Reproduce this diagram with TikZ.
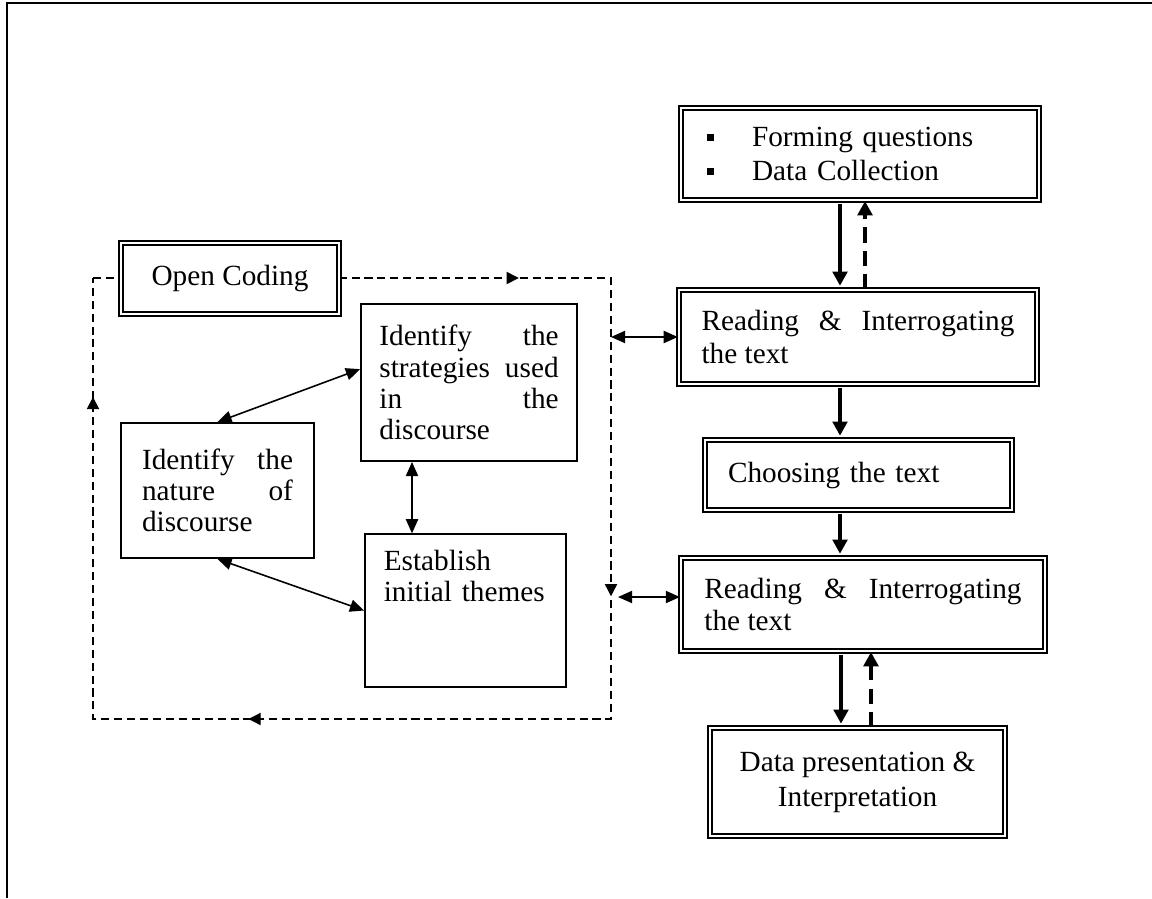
\documentclass[tikz,border=0pt]{standalone}
\usepackage{fontspec}
\setmainfont{Liberation Serif}
\usetikzlibrary{arrows.meta,decorations.markings}
\hyphenpenalty=10000
\tolerance=10000
\newcommand{\sqbul}{\makebox[18.5pt][l]{\rule[2.3pt]{2.9pt}{2.9pt}}}

\tikzset{
	dblbox/.style={draw, fill=white, line width=0.95pt, double, double distance=0.75pt, inner sep=0pt, font=\fontsize{12}{13.2}\selectfont},
	plainbox/.style={draw, fill=white, line width=0.75pt, inner sep=0pt, font=\fontsize{12}{12.8}\selectfont},
	flow/.style={line width=1.4pt, shorten <=1.3pt, shorten >=1.3pt, -{Triangle[length=5.8pt, width=6pt]}},
	backflow/.style={line width=1.4pt, dash pattern=on 6.2pt off 3.3pt, -{Triangle[length=5.8pt, width=6pt]}},
	biarrow/.style={line width=0.65pt, {Triangle[length=5.8pt, width=5pt]}-{Triangle[length=5.8pt, width=5pt]}},
	loopline/.style={line width=0.55pt, dash pattern=on 3.3pt off 2pt},
}

\begin{document}
\begin{tikzpicture}[x=0.41pt, y=-0.41pt]
	\useasboundingbox (0,0) rectangle (1152,898);
	\fill[white] (0,0) rectangle (1152,898);
	\draw[line width=1.2pt] (1152,3) -- (7,3) -- (7,898);

	% open coding loop
	\coordinate (loopNW) at (93,278);
	\coordinate (loopNE) at (611,278);
	\coordinate (loopSE) at (611,719);
	\coordinate (loopSW) at (93,719);
	\draw[loopline, decoration={markings,
			mark=at position 0.222 with {\arrow{Triangle[length=5pt, width=5pt]}},
			mark=at position 0.436 with {\arrow{Triangle[length=5pt, width=5pt]}},
			mark=at position 0.689 with {\arrow{Triangle[length=5pt, width=5pt]}},
			mark=at position 0.938 with {\arrow{Triangle[length=5pt, width=5pt]}}},
		postaction={decorate}] (loopNW) -- (loopNE) -- (loopSE) -- (loopSW) -- cycle;

	\node[dblbox, minimum width=89.4pt, minimum height=29.1pt] (open) at (230,278.5) {Open Coding};
	\node[plainbox, minimum width=88.6pt, minimum height=64.4pt, text width=73.5pt, align=justify] (strat) at (469,382.5) {Identify the\linebreak strategies used\linebreak in the\linebreak discourse};
	\node[plainbox, minimum width=79.1pt, minimum height=55.4pt, text width=61.9pt, align=justify] (nature) at (217.5,490.5) {Identify the nature of discourse};
	\node[plainbox, minimum width=82.4pt, text width=67pt, align=left, inner ysep=6.7pt, text height=8.2pt, text depth=40.9pt] (estab) at (465.5,610.5) {Establish initial themes};

	% main column
	\node[dblbox, minimum width=146.8pt, minimum height=37.7pt, text width=125.5pt, align=left, font=\fontsize{12}{13.9}\selectfont] (forming) at (860,154) {\sqbul Forming questions\\\sqbul Data Collection};
	\node[dblbox, minimum width=146.8pt, minimum height=38.5pt, text width=128.3pt, align=justify] (read1) at (858,337) {Reading \& Interrogating the text};
	\node[dblbox, minimum width=125.9pt, minimum height=28.7pt, text width=107pt, align=left] (choose) at (858.5,475) {Choosing the text};
	\node[dblbox, minimum width=149.2pt, minimum height=38.1pt, text width=130pt, align=justify] (read2) at (863,604.5) {Reading \& Interrogating the text};
	\node[dblbox, minimum width=121pt, minimum height=44.3pt, align=center, font=\fontsize{12}{14.3}\selectfont] (present) at (857.5,782) {Data presentation \&\\Interpretation};

	\draw[flow] (forming.south -| 840,0) -- (read1.north -| 840,0);
	\draw[backflow] (read1.north -| 865,0) -- (forming.south -| 865,0);
	\draw[flow] (read1.south -| 840,0) -- (choose.north -| 840,0);
	\draw[flow] (choose.south -| 840,0) -- (read2.north -| 840,0);
	\draw[flow] (read2.south -| 841,0) -- (present.north -| 841,0);
	\draw[backflow] (present.north -| 871,0) -- (read2.south -| 871,0);

	\draw[biarrow] (nature.north) -- (strat.173);
	\draw[biarrow] (nature.south) -- (estab.west);
	\draw[biarrow] (strat.south -| 412,0) -- (estab.north -| 412,0);
	\draw[biarrow] (read1.west -| loopNE) -- (read1.west);
	\coordinate (read2in) at (618,597);
	\draw[biarrow] (read2in) -- (read2.west |- read2in);
\end{tikzpicture}
\end{document}
